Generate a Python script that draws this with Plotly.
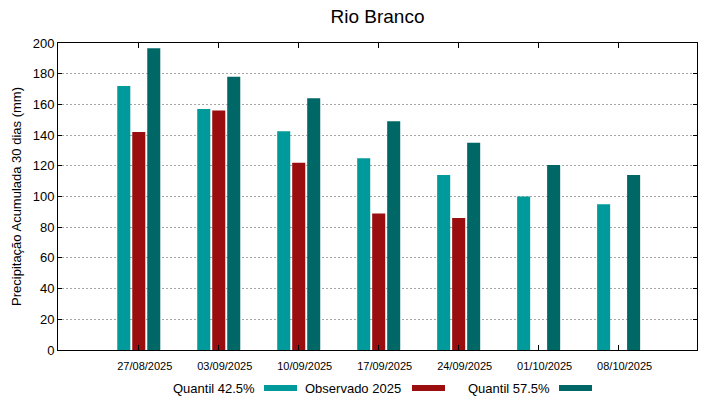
import plotly.graph_objects as go

categories = ["27/08/2025", "03/09/2025", "10/09/2025", "17/09/2025",
              "24/09/2025", "01/10/2025", "08/10/2025"]
q425 = [172, 157, 142.5, 125, 114, 100, 95]
obs2025 = [142, 156, 122, 89, 86, None, None]
q575 = [196.5, 178, 164, 149, 135, 120.5, 114]

names = ["Quantil 42.5%", "Observado 2025", "Quantil 57.5%"]
colors = ["#009a9a", "#9a0e0f", "#006767"]
series = [q425, obs2025, q575]

xpos = list(range(len(categories)))

fig = go.Figure()
for n, c, s in zip(names, colors, series):
    fig.add_trace(go.Bar(x=xpos, y=s, name=n, marker_color=c,
                         marker_line_width=0, showlegend=False))

L, R, T, B = 58, 22, 43, 49
W, H = 719, 399
pw, ph = W - L - R, H - T - B

def px2x(px):
    return (px - L) / pw

def py2y(py):
    return (H - B - py) / ph

annotations = []
shapes = []
legend_spec = [(257, 264, 297), (403, 412, 445), (552, 559, 592)]
for (tr, s0, s1), n, c in zip(legend_spec, names, colors):
    annotations.append(dict(x=px2x(tr), y=py2y(388), xref="paper", yref="paper",
                            text=n, showarrow=False, xanchor="right", yanchor="middle",
                            font=dict(size=13, color="#000000")))
    shapes.append(dict(type="line", xref="paper", yref="paper",
                       x0=px2x(s0), x1=px2x(s1), y0=py2y(388), y1=py2y(388),
                       line=dict(color=c, width=6)))

fig.update_layout(
    width=W, height=H,
    margin=dict(l=L, r=R, t=T, b=B),
    paper_bgcolor="white", plot_bgcolor="white",
    font=dict(family="Liberation Sans, Arial, sans-serif", color="#000000"),
    title=dict(text="Rio Branco", x=0.5, xref="paper", xanchor="center",
               y=1 - 16 / H, yanchor="middle", font=dict(size=19)),
    barmode="group", bargap=0.4375, bargroupgap=0.13,
    annotations=annotations, shapes=shapes,
    xaxis=dict(range=[-1.01, 6.98], tickvals=xpos, ticktext=categories,
               ticks="inside", ticklen=5, tickcolor="#000000",
               showline=True, linecolor="#000000", linewidth=1, mirror="allticks",
               showgrid=False, zeroline=False, tickfont=dict(size=11),
               ticklabelshift=6, ticklabelstandoff=6),
    yaxis=dict(range=[0, 200], tickvals=list(range(0, 201, 20)),
               ticks="inside", ticklen=4, tickcolor="#000000",
               showline=True, linecolor="#000000", linewidth=1, mirror="allticks",
               showgrid=True, gridcolor="#a6a6a6", griddash="2px,2px", gridwidth=1,
               zeroline=False, tickfont=dict(size=13),
               title=dict(text="Precipitação Acumulada 30 dias (mm)",
                          font=dict(size=13), standoff=8)),
)

fig.write_html("out.html", config={"displayModeBar": False},
               post_script="document.body.style.margin='0';document.body.style.padding='0';")
